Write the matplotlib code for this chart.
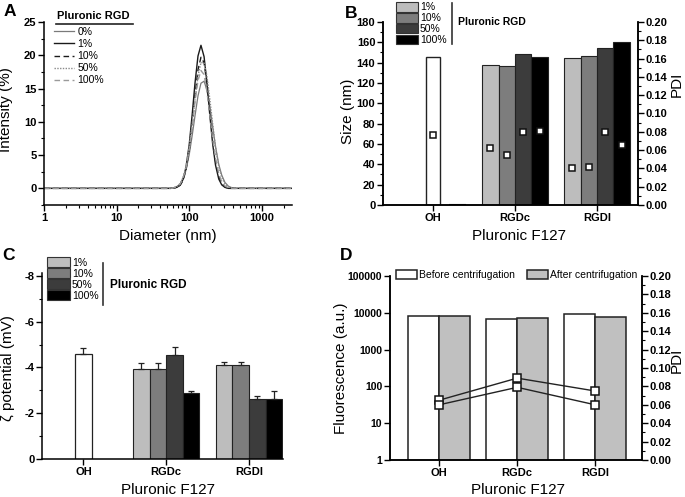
import matplotlib

matplotlib.use("Agg")
import matplotlib.pyplot as plt  # noqa: E402
import numpy as np  # noqa: E402
from matplotlib.lines import Line2D  # noqa: E402
from matplotlib.patches import Patch  # noqa: E402
from matplotlib.ticker import (MultipleLocator, LogLocator, NullFormatter,  # noqa: E402
                               FixedLocator, FormatStrFormatter)

plt.rcParams["font.family"] = ["Liberation Sans", "DejaVu Sans"]
plt.rcParams["axes.unicode_minus"] = False

# ---------------- data ----------------
# (A) DLS intensity distributions
diameter = [1, 55, 60, 68, 75, 82, 90, 100, 110, 120, 132, 145, 160, 175, 192,
            210, 230, 255, 280, 310, 345, 380, 420, 2600]
int_0 = [0, 0, 0.07, 0.27, 0.67, 1.4, 2.7, 5.1, 8.0, 10.9, 13.9, 15.8, 16.1, 14.8, 12.3,
         9.3, 6.3, 3.6, 2.0, 0.9, 0.34, 0.13, 0, 0]
int_1 = [0, 0, 0.03, 0.16, 0.52, 1.33, 3.1, 6.6, 11.2, 15.8, 19.9, 21.5, 19.8, 15.9, 11.0,
         6.7, 3.5, 1.4, 0.53, 0.15, 0, 0, 0, 0]
int_10 = [0, 0, 0.03, 0.15, 0.47, 1.18, 2.7, 5.7, 9.7, 13.9, 17.8, 19.7, 18.9, 15.8, 11.5,
          7.4, 4.1, 1.8, 0.74, 0.24, 0, 0, 0, 0]
int_50 = [0, 0, 0.07, 0.28, 0.73, 1.6, 3.2, 6.1, 9.7, 13.3, 16.9, 18.9, 18.9, 16.9, 13.4,
          9.7, 6.2, 3.3, 1.7, 0.69, 0.24, 0.08, 0, 0]
int_100 = [0, 0, 0.05, 0.24, 0.66, 1.5, 3.0, 5.9, 9.5, 13.0, 16.2, 17.7, 17.1, 14.6, 11.0,
           7.4, 4.5, 2.2, 0.98, 0.36, 0.1, 0, 0, 0]

groups = ["OH", "RGDc", "RGDI"]
rgd_labels = ["1%", "10%", "50%", "100%"]
shades = ["#bdbdbd", "#7d7d7d", "#3c3c3c", "#000000"]

# (B) size (nm) and PDI; OH only has the plain (0%) sample
size_oh = 145.6
pdi_oh = 0.077
size_rgd = {"RGDc": [138.1, 136.8, 148.2, 145.3], "RGDI": [145.0, 146.3, 154.1, 160.0]}
pdi_rgd = {"RGDc": [0.0625, 0.0545, 0.080, 0.081], "RGDI": [0.0407, 0.0418, 0.0793, 0.0655]}

# (C) zeta potential (mV) with error
zeta_oh, zeta_oh_err = -4.59, 0.25
zeta_rgd = {"RGDc": [-3.94, -3.94, -4.55, -2.90], "RGDI": [-4.10, -4.10, -2.61, -2.64]}
zeta_err = {"RGDc": [0.27, 0.27, 0.35, 0.09], "RGDI": [0.16, 0.16, 0.13, 0.32]}

# (D) fluorescence before / after centrifugation + PDI
fluo_before = [8360, 6780, 9080]
fluo_after = [8020, 7380, 7690]
pdi_d_upper = [0.065, 0.089, 0.075]
pdi_d_lower = [0.060, 0.079, 0.060]

# ---------------- layout ----------------
W, H = 685, 497
fig = plt.figure(figsize=(W / 100, H / 100), dpi=100)


def box(l, t, r, b):
    return [l / W, 1 - b / H, (r - l) / W, (b - t) / H]


def fx(x):
    return x / W


def fy(y):
    return 1 - y / H


TICK_FS = 8
LABEL_FS = 11
SPINE_LW = 1.1


def style(ax, right=False, fs=TICK_FS):
    ax.spines["top"].set_visible(False)
    ax.spines["right"].set_visible(right)
    for s in ax.spines.values():
        s.set_linewidth(SPINE_LW)
    ax.tick_params(which="major", direction="out", length=4, width=1, labelsize=fs, pad=1.5)
    ax.tick_params(which="minor", direction="out", length=2, width=0.8)
    for lab in ax.get_xticklabels() + ax.get_yticklabels():
        lab.set_fontweight("bold")


x = np.arange(1, 4)

# ---------------- (A) ----------------
axA = fig.add_axes(box(44, 22, 292, 205))
axA.plot(diameter, int_0, color="#7a7a7a", lw=0.9, ls="-", label="0%")
axA.plot(diameter, int_1, color="#1a1a1a", lw=1.0, ls="-", label="1%")
axA.plot(diameter, int_10, color="#1a1a1a", lw=1.0, ls=(0, (4, 2.5)), label="10%")
axA.plot(diameter, int_50, color="#8a8a8a", lw=1.0, ls=(0, (1, 1)), label="50%")
axA.plot(diameter, int_100, color="#9a9a9a", lw=1.0, ls=(0, (4, 2.5)), label="100%")
axA.set_xscale("log")
axA.set_xlim(1, 2600)
axA.set_ylim(-2.5, 25)
axA.xaxis.set_major_locator(FixedLocator([1, 10, 100, 1000]))
axA.set_xticklabels(["1", "10", "100", "1000"])
axA.xaxis.set_minor_locator(LogLocator(base=10, subs=np.arange(2, 10)))
axA.xaxis.set_minor_formatter(NullFormatter())
axA.yaxis.set_major_locator(MultipleLocator(5))
axA.yaxis.set_minor_locator(MultipleLocator(2.5))
style(axA)
axA.set_xlabel("Diameter (nm)", fontsize=LABEL_FS)
axA.set_ylabel("Intensity (%)", fontsize=LABEL_FS)
axA.xaxis.set_label_coords(0.5, -0.13)
axA.yaxis.set_label_coords(-0.125, 0.52)
axA.legend(loc="upper left", bbox_to_anchor=(fx(54), fy(27)), bbox_transform=fig.transFigure,
           frameon=False, fontsize=7.5, handlelength=1.9, handletextpad=0.35,
           labelspacing=0.2, borderpad=0, borderaxespad=0)
fig.text(fx(57), fy(16), "Pluronic RGD", fontsize=8, fontweight="bold", ha="left", va="center")
fig.add_artist(Line2D([fx(56), fx(133)], [fy(24), fy(24)], color="#222", lw=1.2))

# ---------------- (B) ----------------
axB = fig.add_axes(box(383, 22, 638, 205))
axB2 = axB.twinx()
w = 0.2
axB.bar(1, size_oh, width=0.18, color="white", edgecolor="#222", lw=1.0, zorder=2)
axB.bar(1.3, 0, width=w, color="black", edgecolor="black", lw=1.5, zorder=2)
axB2.plot(1, pdi_oh, ls="none", marker="s", ms=5, mfc="white", mec="#111", mew=1.1, zorder=5)
for gi, g in enumerate(groups[1:], start=2):
    for i in range(4):
        xi = gi + (i - 1.5) * w
        axB.bar(xi, size_rgd[g][i], width=w, color=shades[i], edgecolor="#222", lw=0.8, zorder=2)
        axB2.plot(xi, pdi_rgd[g][i], ls="none", marker="s", ms=5, mfc="white", mec="#111",
                  mew=1.1, zorder=5)
axB.set_xlim(0.39, 3.5)
axB.set_ylim(0, 180)
axB2.set_ylim(0, 0.2)
axB.set_xticks(x)
axB.set_xticklabels(groups)
axB.yaxis.set_major_locator(MultipleLocator(20))
axB.yaxis.set_minor_locator(MultipleLocator(10))
axB2.yaxis.set_major_locator(MultipleLocator(0.02))
axB2.yaxis.set_minor_locator(MultipleLocator(0.01))
axB2.yaxis.set_major_formatter(FormatStrFormatter("%.2f"))
style(axB, right=True)
style(axB2, right=True)
axB2.set_zorder(axB.get_zorder() + 1)
axB2.patch.set_visible(False)
axB.set_xlabel("Pluronic F127", fontsize=LABEL_FS)
axB.set_ylabel("Size (nm)", fontsize=LABEL_FS)
axB2.set_ylabel("PDI", fontsize=LABEL_FS)
axB.xaxis.set_label_coords(0.533, -0.13)
axB.yaxis.set_label_coords(-0.108, 0.51)
axB2.yaxis.set_label_coords(1.125, 0.66)
hB = [Patch(facecolor=c, edgecolor="#333", lw=0.8) for c in shades]
axB2.legend(hB, rgd_labels, loc="upper left", bbox_to_anchor=(fx(396), fy(2)),
            bbox_transform=fig.transFigure, frameon=False, fontsize=7.5, handlelength=2.1,
            handleheight=1.05, handletextpad=0.2, labelspacing=0.05, borderpad=0,
            borderaxespad=0)
fig.add_artist(Line2D([fx(452), fx(452)], [fy(3), fy(44)], color="#333", lw=1.2))
fig.text(fx(458), fy(22), "Pluronic RGD", fontsize=7.5, fontweight="bold", ha="left", va="center")

# ---------------- (C) ----------------
axC = fig.add_axes(box(42, 273, 283, 459))
axC.bar(1, zeta_oh, width=w, color="white", edgecolor="#222", lw=0.9,
        yerr=[[zeta_oh_err], [0]], capsize=2, error_kw=dict(lw=0.9, capthick=0.9, ecolor="#222"))
for gi, g in enumerate(groups[1:], start=2):
    for i in range(4):
        xi = gi + (i - 1.5) * w
        axC.bar(xi, zeta_rgd[g][i], width=w, color=shades[i], edgecolor="#222", lw=0.8,
                yerr=[[zeta_err[g][i]], [0]], capsize=2,
                error_kw=dict(lw=0.9, capthick=0.9, ecolor="#222"))
axC.set_xlim(0.5, 3.41)
axC.set_ylim(0, -8.13)
axC.set_xticks(x)
axC.set_xticklabels(groups)
axC.yaxis.set_major_locator(MultipleLocator(2))
axC.yaxis.set_minor_locator(MultipleLocator(1))
style(axC)
axC.set_xlabel("Pluronic F127", fontsize=LABEL_FS)
axC.set_ylabel("ζ potential (mV)", fontsize=LABEL_FS)
axC.xaxis.set_label_coords(0.523, -0.13)
axC.yaxis.set_label_coords(-0.112, 0.49)
hC = [Patch(facecolor=c, edgecolor="#333", lw=0.8) for c in shades]
axC.legend(hC, rgd_labels, loc="upper left", bbox_to_anchor=(fx(47), fy(257)),
           bbox_transform=fig.transFigure, frameon=False, fontsize=7.5, handlelength=2.2,
           handleheight=1.1, handletextpad=0.2, labelspacing=0.05, borderpad=0,
           borderaxespad=0)
fig.add_artist(Line2D([fx(103), fx(103)], [fy(263), fy(305)], color="#333", lw=1.2))
fig.text(fx(110), fy(285), "Pluronic RGD", fontsize=8.5, fontweight="bold", ha="left", va="center")

# ---------------- (D) ----------------
axD = fig.add_axes(box(390, 276, 642, 460))
axD2 = axD.twinx()
wd = 0.4
axD.bar(x - wd / 2, fluo_before, width=wd, color="white", edgecolor="#222", lw=1.1,
        label="Before centrifugation")
axD.bar(x + wd / 2, fluo_after, width=wd, color="#c0c0c0", edgecolor="#222", lw=1.1,
        label="After centrifugation")
axD2.plot(x, pdi_d_upper, color="#222", lw=1.0, marker="s", ms=5.5, mfc="white", mec="#111",
          mew=1.1)
axD2.plot(x, pdi_d_lower, color="#222", lw=1.0, marker="s", ms=5.5, mfc="white", mec="#111",
          mew=1.1)
axD.set_yscale("log")
axD.set_ylim(1, 100000)
axD.set_xlim(0.37, 3.6)
axD2.set_ylim(0, 0.2)
axD.set_xticks(x)
axD.set_xticklabels(groups)
axD.yaxis.set_major_locator(FixedLocator([1, 10, 100, 1000, 10000, 100000]))
axD.set_yticklabels(["1", "10", "100", "1000", "10000", "100000"])
axD.yaxis.set_minor_locator(FixedLocator([]))
axD2.yaxis.set_major_locator(MultipleLocator(0.02))
axD2.yaxis.set_minor_locator(MultipleLocator(0.01))
axD2.yaxis.set_major_formatter(FormatStrFormatter("%.2f"))
style(axD, right=True, fs=7.5)
axD.tick_params(axis="x", labelsize=TICK_FS)
style(axD2, right=True)
axD.set_xlabel("Pluronic F127", fontsize=LABEL_FS)
axD.set_ylabel("Fluorescence (a.u.)", fontsize=LABEL_FS)
axD2.set_ylabel("PDI", fontsize=LABEL_FS)
axD.xaxis.set_label_coords(0.508, -0.125)
axD.yaxis.set_label_coords(-0.165, 0.5)
axD2.yaxis.set_label_coords(1.111, 0.54)
axD2.legend(*axD.get_legend_handles_labels(), loc="upper left", bbox_to_anchor=(fx(396), fy(270)),
            bbox_transform=fig.transFigure, frameon=False, fontsize=7.5, ncol=2,
            handlelength=2.0, handleheight=1.0, handletextpad=0.2, columnspacing=1.2,
            borderpad=0, borderaxespad=0)

# ---------------- panel letters ----------------
for lx, ly, t in [(4, 12, "A"), (345, 13, "B"), (2, 256, "C"), (340, 256, "D")]:
    fig.text(fx(lx), fy(ly), t, fontsize=12.5, fontweight="bold", ha="left", va="center")

fig.savefig("out.png", dpi=100)
